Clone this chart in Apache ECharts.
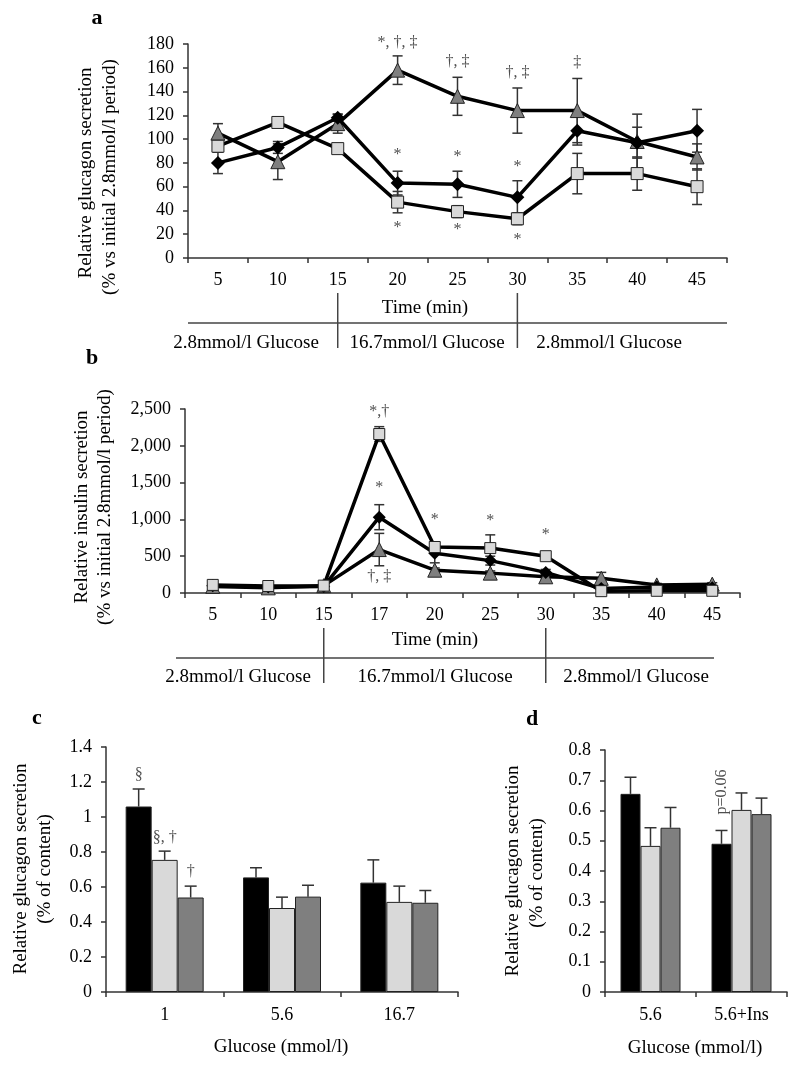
<!DOCTYPE html>
<html>
<head>
    <meta http-equiv="Content-Type" content="text/html; charset=utf-8" />
    <title>Glucagon and insulin secretion</title>
    <style>
        html, body { margin: 0; padding: 0; background: #fff; }
        #main { width: 800px; height: 1071px; }
    </style>
</head>
<body>
    <div id="main"></div>
    <script src="https://cdn.jsdelivr.net/npm/echarts@6/dist/echarts.min.js"></script>
    <script type="text/javascript">
        var FONT = 'Liberation Serif';

        // panel a - relative glucagon secretion over time
        var timeA = ['5', '10', '15', '20', '25', '30', '35', '40', '45'];
        var aDiamond    = [80, 93, 118, 63, 62, 51, 107, 97, 107];
        var aDiamondErr = [9, 5, 3, 10, 11, 14, 12, 13, 18];
        var aTriangle    = [105, 81, 113, 158, 136, 124, 124, 98, 85];
        var aTriangleErr = [8, 15, 8, 12, 16, 19, 27, 23, 11];
        var aSquare    = [94, 114, 92, 47, 39, 33, 71, 71, 60];
        var aSquareErr = [5, 4, 4, 9, 5, 5, 17, 14, 15];
        // [category index, value, text]
        var aNotes = [
            [3, 181, '*, †, ‡'], [3, 87, '*'], [3, 25, '*'],
            [4, 165, '†, ‡'], [4, 85, '*'], [4, 24, '*'],
            [5, 156, '†, ‡'], [5, 77, '*'], [5, 15, '*'],
            [6, 164, '‡']
        ];

        // panel b - relative insulin secretion over time
        var timeB = ['5', '10', '15', '17', '20', '25', '30', '35', '40', '45'];
        var bDiamond    = [100, 80, 90, 1030, 540, 440, 280, 60, 80, 70];
        var bDiamondErr = [15, 10, 10, 170, 130, 60, 40, 15, 15, 15];
        var bTriangle    = [90, 70, 100, 590, 310, 270, 220, 200, 110, 120];
        var bTriangleErr = [15, 10, 10, 220, 30, 30, 30, 80, 20, 20];
        var bSquare    = [110, 95, 100, 2160, 625, 610, 500, 25, 30, 30];
        var bSquareErr = [20, 15, 15, 100, 60, 180, 30, 10, 10, 10];
        var bNotes = [
            [3, 2460, '*,†'], [3, 1427, '*'], [3, 217, '†, ‡'],
            [4, 992, '*'], [5, 980, '*'], [6, 790, '*']
        ];

        // panel c - glucagon secretion vs glucose
        var glucC = ['1', '5.6', '16.7'];
        var cBlack    = [1.06, 0.655, 0.625];
        var cBlackErr = [0.10, 0.055, 0.13];
        var cLight    = [0.755, 0.48, 0.515];
        var cLightErr = [0.05, 0.062, 0.09];
        var cGrey     = [0.54, 0.545, 0.51];
        var cGreyErr  = [0.065, 0.065, 0.07];
        // [category index, value, text, bar slot]
        var cNotes = [[0, 1.24, '§', 0], [0, 0.88, '§, †', 1], [0, 0.686, '†', 2]];

        // panel d - glucagon secretion with / without insulin
        var glucD = ['5.6', '5.6+Ins'];
        var dBlack    = [0.655, 0.49];
        var dBlackErr = [0.055, 0.044];
        var dLight    = [0.483, 0.602];
        var dLightErr = [0.06, 0.056];
        var dGrey     = [0.543, 0.588];
        var dGreyErr  = [0.067, 0.053];
        var dNotes = [[1, 0.661, 'p=0.06', 0]];

        var AXIS = '#333';
        var BLACK = '#000', LIGHT = '#d9d9d9', GREY = '#7f7f7f';

        function xCat(grid, data, margin) {
            return {
                type: 'category', gridIndex: grid, data: data, boundaryGap: true,
                axisLine: { lineStyle: { color: AXIS, width: 1.5 } },
                axisTick: { show: true, alignWithLabel: false, interval: 0, length: 5, lineStyle: { color: AXIS, width: 1.5 } },
                axisLabel: { interval: 0, margin: margin, color: '#000', fontFamily: FONT, fontSize: 18 },
                splitLine: { show: false }
            };
        }
        function yVal(grid, max, step, fmt) {
            return {
                type: 'value', gridIndex: grid, min: 0, max: max, interval: step,
                axisLine: { show: true, lineStyle: { color: AXIS, width: 1.5 } },
                axisTick: { show: true, length: 5, lineStyle: { color: AXIS, width: 1.5 } },
                axisLabel: { margin: 14, color: '#000', fontFamily: FONT, fontSize: 18, formatter: fmt },
                splitLine: { show: false }
            };
        }

        function lineSeries(i, data, sym, size, fill, z) {
            return {
                type: 'line', xAxisIndex: i, yAxisIndex: i, data: data, z: z,
                symbol: sym, symbolSize: size,
                itemStyle: { color: fill, borderColor: '#222', borderWidth: sym === 'diamond' ? 0 : 1 },
                lineStyle: { color: '#000', width: 3.5 },
                emphasis: { disabled: true }
            };
        }

        function errSeries(i, vals, errs, offset, both, cap) {
            return {
                type: 'custom', xAxisIndex: i, yAxisIndex: i, z: 1, clip: false,
                encode: { x: 0, y: 1 },
                data: vals.map(function (v, k) { return [k, v, errs[k]]; }),
                renderItem: function (params, api) {
                    var k = api.value(0), v = api.value(1), e = api.value(2);
                    var hi = api.coord([k, v + e]);
                    var lo = api.coord([k, both ? v - e : v]);
                    var cx = hi[0] + offset;
                    var st = { stroke: '#333', lineWidth: 1.5 };
                    var kids = [
                        { type: 'line', shape: { x1: cx, y1: hi[1], x2: cx, y2: lo[1] }, style: st },
                        { type: 'line', shape: { x1: cx - cap, y1: hi[1], x2: cx + cap, y2: hi[1] }, style: st }
                    ];
                    if (both) {
                        kids.push({ type: 'line', shape: { x1: cx - cap, y1: lo[1], x2: cx + cap, y2: lo[1] }, style: st });
                    }
                    return { type: 'group', children: kids };
                }
            };
        }

        function barSeries(i, data, color, width) {
            return {
                type: 'bar', xAxisIndex: i, yAxisIndex: i, data: data, z: 2,
                barWidth: width, barGap: '0%',
                itemStyle: { color: color, borderColor: '#222', borderWidth: 1 },
                emphasis: { disabled: true }
            };
        }

        function noteSeries(i, notes, barW, rotate) {
            return {
                type: 'scatter', xAxisIndex: i, yAxisIndex: i, symbolSize: 0, z: 5, clip: false,
                silent: true,
                data: notes.map(function (n) {
                    var dx = n.length > 3 ? (n[3] - 1) * barW : 0;
                    // label offset is applied in the rotated frame
                    var off = rotate ? [0, dx] : [dx, 0];
                    return {
                        value: [n[0], n[1]],
                        label: {
                            show: true, position: 'inside', formatter: n[2], offset: off,
                            rotate: rotate || 0,
                            color: '#222', fontFamily: FONT, fontSize: 16
                        }
                    };
                })
            };
        }

        function thousands(v) {
            return String(v).replace(/\B(?=(\d{3})+(?!\d))/g, ',');
        }

        var CW = 26, DW = 20;

        var option = {
            animation: false,
            backgroundColor: '#fff',
            textStyle: { fontFamily: FONT },
            grid: [
                { left: 188, top: 44, width: 539, height: 214 },
                { left: 185, top: 409, width: 555, height: 184 },
                { left: 106, top: 747, width: 352, height: 245 },
                { left: 605, top: 750, width: 182, height: 242 }
            ],
            xAxis: [
                xCat(0, timeA, 13),
                xCat(1, timeB, 13),
                xCat(2, glucC, 14),
                xCat(3, glucD, 14)
            ],
            yAxis: [
                yVal(0, 180, 20),
                yVal(1, 2500, 500, thousands),
                yVal(2, 1.4, 0.2),
                yVal(3, 0.8, 0.1)
            ],
            series: [
                errSeries(0, aTriangle, aTriangleErr, 0, true, 5),
                errSeries(0, aDiamond, aDiamondErr, 0, true, 5),
                errSeries(0, aSquare, aSquareErr, 0, true, 5),
                lineSeries(0, aTriangle, 'triangle', 14, GREY, 2),
                lineSeries(0, aDiamond, 'diamond', 14, BLACK, 3),
                lineSeries(0, aSquare, 'rect', 12, LIGHT, 4),
                noteSeries(0, aNotes),

                errSeries(1, bTriangle, bTriangleErr, 0, true, 5),
                errSeries(1, bDiamond, bDiamondErr, 0, true, 5),
                errSeries(1, bSquare, bSquareErr, 0, true, 5),
                lineSeries(1, bTriangle, 'triangle', 14, GREY, 2),
                lineSeries(1, bDiamond, 'diamond', 13, BLACK, 3),
                lineSeries(1, bSquare, 'rect', 11, LIGHT, 4),
                noteSeries(1, bNotes),

                barSeries(2, cBlack, BLACK, CW),
                barSeries(2, cLight, LIGHT, CW),
                barSeries(2, cGrey, GREY, CW),
                errSeries(2, cBlack, cBlackErr, -CW, false, 6),
                errSeries(2, cLight, cLightErr, 0, false, 6),
                errSeries(2, cGrey, cGreyErr, CW, false, 6),
                noteSeries(2, cNotes, CW),

                barSeries(3, dBlack, BLACK, DW),
                barSeries(3, dLight, LIGHT, DW),
                barSeries(3, dGrey, GREY, DW),
                errSeries(3, dBlack, dBlackErr, -DW, false, 6),
                errSeries(3, dLight, dLightErr, 0, false, 6),
                errSeries(3, dGrey, dGreyErr, DW, false, 6),
                noteSeries(3, dNotes, DW, 90)
            ]
        };

        var myChart = echarts.init(document.getElementById('main'));
        myChart.setOption(option);

        // axis titles, panel letters and the glucose condition rows
        function txt(x, y, s, size, rot, bold) {
            return {
                type: 'text', x: x, y: y, rotation: rot ? Math.PI / 2 : 0, silent: true,
                style: {
                    text: s, fill: '#000', font: (bold ? 'bold ' : '') + size + 'px "' + FONT + '"',
                    align: 'center', verticalAlign: 'middle'
                }
            };
        }
        function seg(x1, y1, x2, y2) {
            return {
                type: 'line', silent: true,
                shape: { x1: x1, y1: y1, x2: x2, y2: y2 },
                style: { stroke: '#444', lineWidth: 1.5 }
            };
        }
        function catX(axis, idx) {
            return myChart.convertToPixel({ xAxisIndex: axis }, idx);
        }

        var a15 = catX(0, 2), a30 = catX(0, 5);
        var b15 = catX(1, 2), b30 = catX(1, 6);

        var graphics = [
            txt(97, 18, 'a', 22, false, true),
            txt(92, 358, 'b', 22, false, true),
            txt(37, 718, 'c', 22, false, true),
            txt(532, 719, 'd', 22, false, true),

            txt(86, 173, 'Relative glucagon secretion', 19, true),
            txt(110, 177, '(% vs initial 2.8mmol/l period)', 19, true),
            txt(425, 308, 'Time (min)', 19),
            seg(188, 323, 727, 323),
            seg(a15, 293, a15, 348),
            seg(a30, 293, a30, 348),
            txt(246, 343, '2.8mmol/l Glucose', 19),
            txt(427, 343, '16.7mmol/l Glucose', 19),
            txt(609, 343, '2.8mmol/l Glucose', 19),

            txt(82, 507, 'Relative insulin secretion', 19, true),
            txt(105, 507, '(% vs initial 2.8mmol/l period)', 19, true),
            txt(435, 640, 'Time (min)', 19),
            seg(176, 658, 714, 658),
            seg(b15, 628, b15, 683),
            seg(b30, 628, b30, 683),
            txt(238, 677, '2.8mmol/l Glucose', 19),
            txt(435, 677, '16.7mmol/l Glucose', 19),
            txt(636, 677, '2.8mmol/l Glucose', 19),

            txt(21, 869, 'Relative glucagon secretion', 19, true),
            txt(45, 869, '(% of content)', 19, true),
            txt(281, 1047, 'Glucose (mmol/l)', 19),

            txt(513, 871, 'Relative glucagon secretion', 19, true),
            txt(537, 873, '(% of content)', 19, true),
            txt(695, 1048, 'Glucose (mmol/l)', 19)
        ];
        myChart.setOption({ graphic: graphics });
    </script>
</body>
</html>
